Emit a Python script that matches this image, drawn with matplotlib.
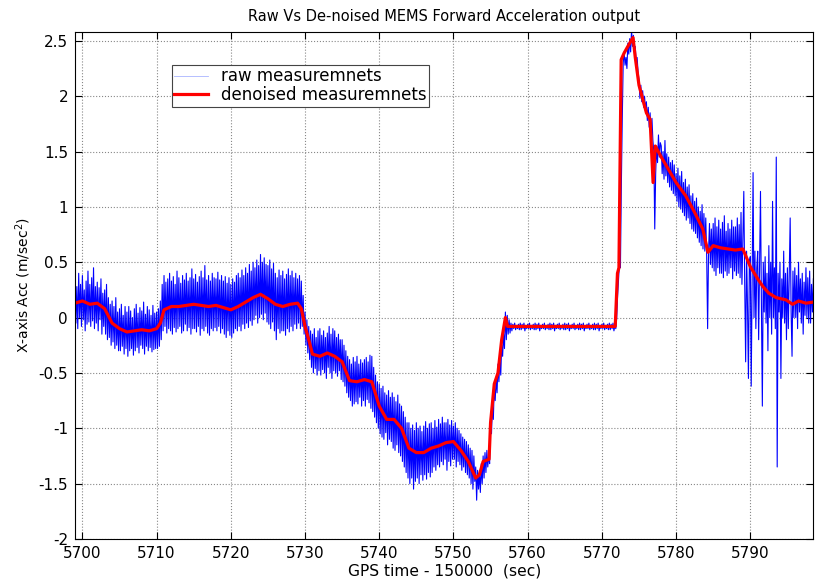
import matplotlib.pyplot as plt
import numpy as np

plt.rcParams['font.family'] = ['DejaVu Sans']

# raw samples, 8 per second starting at 5699 s
raw_start = 5699.0
raw_step = 0.125
raw = [
    0.35, -0.05, 0.28, -0.10, 0.40, 0.00, 0.30, -0.08,       # 5699
    0.38, -0.02, 0.25, -0.12, 0.33, -0.06, 0.42, -0.04,
    0.30, -0.08, 0.36, -0.03, 0.45, -0.10, 0.28, -0.05,
    0.32, -0.12, 0.27, -0.02, 0.35, -0.15, 0.22, -0.08,
    0.25, -0.15, 0.30, -0.20, 0.18, -0.18, 0.12, -0.25,
    0.15, -0.22, 0.10, -0.28, 0.18, -0.25, 0.05, -0.30,
    0.08, -0.30, 0.12, -0.26, 0.02, -0.33, 0.10, -0.28,
    0.05, -0.35, 0.10, -0.30, 0.06, -0.28, 0.00, -0.34,
    0.08, -0.30, 0.12, -0.27, 0.04, -0.32, 0.09, -0.25,
    0.06, -0.28, 0.14, -0.33, 0.03, -0.26, 0.10, -0.30,
    0.07, -0.27, 0.02, -0.31, 0.11, -0.29, 0.04, -0.28,
    0.05, -0.28, 0.08, -0.26, 0.15, -0.20, 0.30, -0.12,      # 5710
    0.38, -0.08, 0.32, -0.14, 0.35, -0.10, 0.40, -0.12,
    0.33, -0.15, 0.37, -0.09, 0.30, -0.13, 0.42, -0.10,
    0.36, -0.08, 0.31, -0.14, 0.38, -0.12, 0.34, -0.06,
    0.40, -0.12, 0.33, -0.09, 0.36, -0.15, 0.44, -0.10,
    0.35, -0.10, 0.39, -0.13, 0.32, -0.08, 0.37, -0.16,
    0.42, -0.10, 0.36, -0.12, 0.47, -0.08, 0.34, -0.14,
    0.38, -0.16, 0.33, -0.10, 0.40, -0.12, 0.36, -0.09,
    0.35, -0.12, 0.41, -0.08, 0.34, -0.14, 0.38, -0.10,
    0.33, -0.15, 0.37, -0.18, 0.31, -0.12, 0.36, -0.16,
    0.30, -0.18, 0.35, -0.14, 0.32, -0.10, 0.38, -0.12,      # 5720
    0.40, -0.08, 0.36, -0.12, 0.43, -0.06, 0.38, -0.10,
    0.45, -0.05, 0.40, -0.09, 0.48, -0.03, 0.42, -0.07,
    0.50, -0.02, 0.45, 0.02, 0.52, -0.05, 0.47, 0.00,
    0.57, 0.03, 0.50, -0.02, 0.54, 0.04, 0.48, -0.04,
    0.47, -0.06, 0.52, -0.10, 0.44, -0.04, 0.49, -0.12,
    0.40, -0.20, 0.36, -0.10, 0.43, -0.14, 0.38, -0.12,
    0.42, -0.12, 0.35, -0.16, 0.39, -0.10, 0.44, -0.13,
    0.38, -0.08, 0.42, -0.12, 0.36, -0.06, 0.40, -0.10,
    0.35, -0.05, 0.38, -0.10, 0.33, -0.08, 0.20, -0.15,
    0.05, -0.25, -0.02, -0.32, -0.08, -0.38, -0.12, -0.45,   # 5730
    -0.15, -0.50, -0.10, -0.46, -0.18, -0.52, -0.12, -0.48,
    -0.10, -0.52, -0.16, -0.47, -0.12, -0.50, -0.18, -0.55,
    -0.14, -0.45, -0.08, -0.50, -0.15, -0.55, -0.10, -0.48,
    -0.12, -0.50, -0.18, -0.53, -0.15, -0.48, -0.20, -0.56,
    -0.20, -0.58, -0.25, -0.62, -0.30, -0.68, -0.35, -0.72,
    -0.38, -0.75, -0.42, -0.80, -0.36, -0.78, -0.40, -0.76,
    -0.35, -0.78, -0.42, -0.72, -0.38, -0.80, -0.41, -0.75,
    -0.38, -0.80, -0.36, -0.74, -0.40, -0.77, -0.34, -0.82,
    -0.35, -0.85, -0.45, -0.90, -0.52, -0.95, -0.58, -1.00,
    -0.60, -1.05, -0.64, -1.08, -0.62, -1.10, -0.68, -1.04,  # 5740
    -0.70, -1.15, -0.66, -1.10, -0.72, -1.12, -0.68, -1.18,
    -0.72, -1.20, -0.76, -1.15, -0.70, -1.22, -0.78, -1.25,
    -0.80, -1.30, -0.85, -1.35, -0.90, -1.40, -0.95, -1.45,
    -0.95, -1.50, -1.00, -1.45, -0.97, -1.55, -1.02, -1.48,
    -0.95, -1.45, -1.00, -1.50, -0.98, -1.42, -1.03, -1.47,
    -0.98, -1.42, -0.94, -1.46, -1.00, -1.40, -0.96, -1.44,
    -0.95, -1.40, -1.00, -1.35, -0.93, -1.38, -0.99, -1.33,
    -0.92, -1.35, -0.96, -1.30, -0.90, -1.33, -0.95, -1.28,
    -0.95, -1.38, -0.92, -1.30, -0.97, -1.34, -0.93, -1.28,
    -0.98, -1.28, -0.95, -1.35, -1.00, -1.30, -1.02, -1.33,  # 5750
    -1.05, -1.38, -1.08, -1.35, -1.10, -1.40, -1.12, -1.42,
    -1.15, -1.45, -1.18, -1.50, -1.20, -1.55, -1.25, -1.48,
    -1.35, -1.65, -1.38, -1.55, -1.40, -1.58, -1.32, -1.50,
    -1.25, -1.45, -1.22, -1.40, -1.20, -1.35, -1.24, -1.32,
    -0.90, -1.05, -0.80, -0.92, -0.62, -0.75, -0.55, -0.68,
    -0.42, -0.58, -0.38, -0.52, -0.25, -0.35, -0.15, -0.28,
    0.05, -0.20, 0.02, -0.15, -0.02, -0.14, -0.05, -0.12,
    -0.06, -0.10, -0.05, -0.11, -0.07, -0.10, -0.06, -0.11,
    -0.05, -0.11, -0.06, -0.10, -0.05, -0.12, -0.07, -0.10,
    -0.06, -0.10, -0.05, -0.11, -0.07, -0.10, -0.06, -0.11,  # 5760
    -0.05, -0.11, -0.06, -0.10, -0.05, -0.12, -0.07, -0.10,
    -0.06, -0.10, -0.05, -0.11, -0.07, -0.10, -0.06, -0.11,
    -0.05, -0.11, -0.06, -0.10, -0.05, -0.12, -0.07, -0.10,
    -0.06, -0.10, -0.05, -0.11, -0.07, -0.10, -0.06, -0.11,
    -0.05, -0.11, -0.06, -0.10, -0.05, -0.12, -0.07, -0.10,
    -0.06, -0.10, -0.05, -0.11, -0.07, -0.10, -0.06, -0.11,
    -0.05, -0.11, -0.06, -0.10, -0.05, -0.12, -0.07, -0.10,
    -0.06, -0.10, -0.05, -0.11, -0.07, -0.10, -0.06, -0.11,
    -0.05, -0.11, -0.06, -0.10, -0.05, -0.12, -0.07, -0.10,
    -0.06, -0.10, -0.05, -0.11, -0.07, -0.10, -0.06, -0.11,  # 5770
    -0.05, -0.11, -0.06, -0.10, -0.05, -0.12, -0.07, -0.10,
    0.00, 0.20, 0.35, 0.50, 0.45, 1.20, 1.80, 2.30,
    2.40, 2.28, 2.35, 2.25, 2.48, 2.38, 2.52, 2.40,
    2.60, 2.45, 2.55, 2.40, 2.45, 2.30, 2.35, 2.22,
    2.15, 1.98, 2.10, 1.95, 2.05, 1.90, 2.00, 1.88,
    1.95, 1.78, 1.90, 1.72, 1.85, 1.65, 1.80, 1.60,
    1.50, 0.80, 1.30, 1.55, 1.40, 1.65, 1.45, 1.58,
    1.55, 1.30, 1.50, 1.25, 1.60, 1.28, 1.48, 1.22,
    1.45, 1.18, 1.40, 1.15, 1.42, 1.12, 1.38, 1.10,
    1.30, 1.05, 1.35, 1.00, 1.28, 0.98, 1.32, 0.95,          # 5780
    1.22, 0.92, 1.25, 0.88, 1.18, 0.90, 1.20, 0.85,
    1.10, 0.80, 1.12, 0.78, 1.05, 0.76, 1.08, 0.72,
    1.00, 0.68, 0.96, 0.65, 1.02, 0.62, 0.94, 0.60,
    0.90, 0.55, -0.10, 0.60, 0.85, 0.48, 0.80, 0.45,
    0.85, 0.42, 0.90, 0.38, 0.82, 0.45, 0.88, 0.40,
    0.80, 0.40, 0.86, 0.36, 0.92, 0.42, 0.78, 0.38,
    0.85, 0.40, 0.80, 0.45, 0.88, 0.35, 0.82, 0.42,
    0.82, 0.38, 0.90, 0.40, 0.84, 0.36, 0.95, 0.30,
    0.70, 1.14, 0.30, -0.40, 0.60, 0.10, -0.55, 0.50,
    0.55, -0.62, 0.40, 1.31, 0.00, 0.60, -0.10, 0.45,        # 5790
    0.60, -0.20, 0.45, 1.14, 0.10, -0.80, 0.50, 0.05,
    0.55, -0.05, 0.40, -0.30, 0.65, 0.00, 0.50, -0.15,
    1.05, 0.00, 0.45, -0.10, 1.45, -1.35, 0.40, 0.05,
    0.50, -0.55, 0.35, 0.00, 0.60, -0.05, 0.40, -0.20,
    0.45, -0.10, 0.38, 0.90, 0.05, -0.35, 0.42, 0.00,
    0.45, 0.00, 0.38, -0.10, 0.50, 0.05, 0.35, -0.05,
    0.40, -0.15, 0.32, 0.02, 0.45, 0.00, 0.36, -0.05,
    0.42, -0.05, 0.30, 0.05, 0.35,
]

# denoised output
den_t = [5699, 5700, 5701, 5702, 5703, 5704, 5705, 5706, 5707, 5708, 5709, 5710,
         5710.5, 5711, 5712, 5713, 5714, 5715, 5716, 5717, 5718, 5719, 5720, 5721,
         5722, 5723, 5724, 5725, 5726, 5727, 5728, 5729, 5729.5, 5730, 5730.5, 5731,
         5732, 5733, 5734, 5735, 5736, 5737, 5738, 5739, 5740, 5741, 5742, 5743,
         5744, 5745, 5746, 5747, 5748, 5749, 5750, 5751, 5752, 5753, 5753.5, 5754,
         5754.8, 5755, 5755.5, 5756, 5756.5, 5757, 5757.3, 5758, 5760, 5765, 5771.8,
         5772.1, 5772.3, 5772.6, 5773, 5773.5, 5774.2, 5774.5, 5775, 5776, 5776.5,
         5776.9, 5777.2, 5778, 5778.7, 5780, 5781.3, 5782.5, 5783.6, 5784.3, 5785,
         5786, 5787, 5788, 5789, 5790, 5791, 5791.7, 5792.5, 5793.5, 5794.8, 5795.7,
         5796.5, 5797.5, 5798.5]
den_v = [0.13, 0.15, 0.12, 0.13, 0.08, -0.05, -0.10, -0.13, -0.12, -0.11, -0.12, -0.10,
         -0.05, 0.07, 0.10, 0.10, 0.11, 0.12, 0.11, 0.10, 0.11, 0.09, 0.07, 0.10,
         0.14, 0.18, 0.21, 0.17, 0.12, 0.10, 0.12, 0.13, 0.08, -0.08, -0.20, -0.33,
         -0.35, -0.32, -0.35, -0.40, -0.57, -0.58, -0.56, -0.58, -0.80, -0.92, -0.92, -1.00,
         -1.18, -1.22, -1.22, -1.18, -1.16, -1.13, -1.12, -1.20, -1.30, -1.45, -1.42, -1.30,
         -1.28, -0.95, -0.60, -0.50, -0.20, 0.00, -0.08, -0.08, -0.08, -0.08, -0.08,
         0.40, 0.45, 2.33, 2.39, 2.45, 2.53, 2.35, 2.10, 1.85, 1.79,
         1.22, 1.55, 1.45, 1.37, 1.22, 1.10, 0.95, 0.80, 0.59, 0.65,
         0.63, 0.62, 0.61, 0.62, 0.46, 0.35, 0.28, 0.22, 0.18, 0.16, 0.12,
         0.15, 0.13, 0.14]

raw_t = raw_start + raw_step * np.arange(len(raw))

fig = plt.figure(figsize=(8.15, 5.82), dpi=100)
ax = fig.add_axes([0.092, 0.074, 0.906, 0.871])

ax.plot(raw_t, raw, color='#0000ff', linewidth=0.8, label='raw measuremnets')
ax.plot(den_t, den_v, color='#ff0000', linewidth=2.3, label='denoised measuremnets')

ax.set_xlim(5699, 5798.5)
ax.set_ylim(-2, 2.58)
ax.set_xticks(np.arange(5700, 5791, 10))
ax.set_yticks(np.arange(-2, 2.51, 0.5))
ax.set_yticklabels(['-2', '-1.5', '-1', '-0.5', '0', '0.5', '1', '1.5', '2', '2.5'])
ax.tick_params(direction='in', top=True, right=True, labelsize=11, length=5, pad=5)
ax.grid(True, linestyle=':', color='#888888', linewidth=0.8)

ax.set_title('Raw Vs De-noised MEMS Forward Acceleration output', fontsize=10.5, pad=8)
ax.set_xlabel('GPS time - 150000  (sec)', fontsize=11.2, labelpad=2)
ax.set_ylabel('X-axis Acc (m/sec$^2$)', fontsize=10)

leg = ax.legend(loc='upper left', bbox_to_anchor=(0.131, 0.935), fontsize=12,
                fancybox=False, edgecolor='#444444', framealpha=1, borderaxespad=0,
                borderpad=0.15, labelspacing=0.05, handlelength=2)
leg.get_frame().set_linewidth(0.8)
leg.get_lines()[0].set_color('#aab4ff')
leg.get_lines()[0].set_linewidth(0.6)

fig.savefig('out.png')
